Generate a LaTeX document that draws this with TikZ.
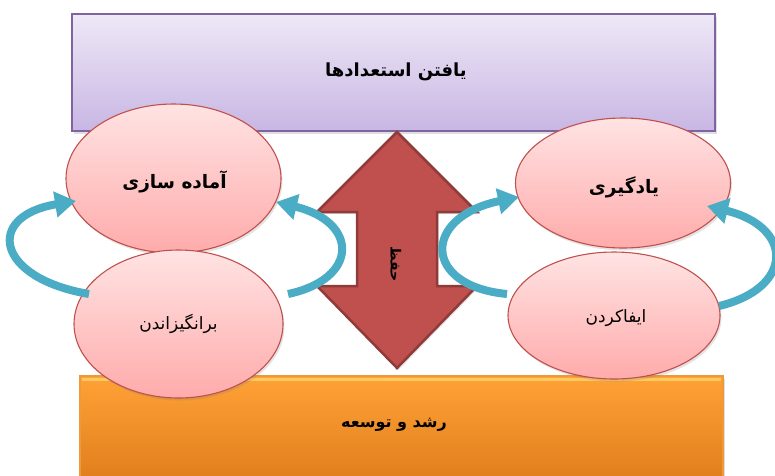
\documentclass[tikz,border=0pt]{standalone}
\usepackage{fontspec}
\newfontfamily\fa[Script=Arabic]{DejaVu Sans}
\TeXXeTstate=1
\usetikzlibrary{arrows.meta,shadows,shapes.geometric}

\definecolor{lavTop}{HTML}{EEE8F7}
\definecolor{lavBot}{HTML}{C8B6E3}
\definecolor{lavLine}{HTML}{8064A2}
\definecolor{orTop}{HTML}{FFA236}
\definecolor{orBot}{HTML}{E07E1C}
\definecolor{orLine}{HTML}{EE9A3A}
\definecolor{orHi}{HTML}{FFD46A}
\definecolor{stageTop}{HTML}{FFE3E3}
\definecolor{stageBot}{HTML}{FFABAB}
\definecolor{stageLine}{HTML}{C0504D}
\definecolor{keepFill}{HTML}{C0504D}
\definecolor{keepLine}{HTML}{8E3B39}
\definecolor{turnBlue}{HTML}{4BACC6}

\begin{document}
\begin{tikzpicture}[x=1pt,y=-1pt,
  panel/.style={draw, line width=1.2pt, inner sep=0pt,
    drop shadow={opacity=0.25,shadow xshift=2pt,shadow yshift=-3pt}},
  stage/.style={ellipse, draw=stageLine, line width=1.1pt,
    top color=stageTop, bottom color=stageBot, inner sep=0pt,
    drop shadow={opacity=0.22,shadow xshift=1.5pt,shadow yshift=-2.5pt}},
  turnarrow/.style={draw=turnBlue, line width=8pt,
    -{Triangle[width=25pt,length=21pt]}},
  headtext/.style={font=\fa\bfseries\fontsize{18}{21}\selectfont},
  stagebold/.style={font=\fa\bfseries\fontsize{18.5}{22}\selectfont},
  stageplain/.style={font=\fa\fontsize{17}{20}\selectfont},
]
\useasboundingbox (0,0) rectangle (775,475);

% top and bottom bands
\node[panel, draw=lavLine, top color=lavTop, bottom color=lavBot,
      minimum width=643pt, minimum height=117pt] (find) at (393.5,72.5) {};
\node[headtext] (findtext) at (396,72) {\beginR یافتن استعدادها\endR};

\node[panel, draw=orLine, top color=orTop, bottom color=orBot,
      minimum width=643pt, minimum height=104pt] (grow) at (401.5,428) {};
\draw[orHi, line width=3pt, opacity=0.8]
  ([shift={(3,4)}]grow.north west) -- ([shift={(-3,4)}]grow.north east);
\node[font=\fa\bfseries\fontsize{16}{19}\selectfont] (growtext) at (394,425)
  {\beginR رشد و توسعه\endR};

% central two-headed arrow
\filldraw[fill=keepFill, draw=keepLine, line width=2.5pt, line join=miter,
  drop shadow={opacity=0.2,shadow xshift=1.5pt,shadow yshift=-2pt}]
  (397,132) -- (477,212) -- (437,212) -- (437,286) -- (477,286)
  -- (397,368) -- (317,286) -- (357,286) -- (357,212) -- (317,212) -- cycle;
\node[font=\fa\bfseries\fontsize{14}{16}\selectfont, rotate=-90] (keep)
  at (396,264) {\beginR حفظ\endR};

% four stages
\node[stage, minimum width=215pt, minimum height=149pt] (prep) at (173.5,178.5) {};
\node[stagebold] at ([shift={(1,3)}]prep.center) {\beginR آماده سازی\endR};
\node[stage, minimum width=215pt, minimum height=130pt] (learn) at (623,183) {};
\node[stagebold] at ([shift={(1,4)}]learn.center) {\beginR یادگیری\endR};
\node[stage, minimum width=209pt, minimum height=148pt] (motivate) at (178.5,324) {};
\node[stageplain] at (motivate.center) {\beginR برانگیزاندن\endR};
\node[stage, minimum width=212pt, minimum height=127pt] (perform) at (614,315.5) {};
\node[stageplain] at ([shift={(2,3)}]perform.center) {\beginR ایفاکردن\endR};

% cycles between the stages
\draw[turnarrow] ([shift={(-89.5,-30)}]motivate.center)
  .. controls +(-94,-16) and +(-91,15) .. ([shift={(-97.5,22.5)}]prep.center);
\draw[turnarrow] ([shift={(109.5,-30)}]motivate.center)
  .. controls +(71,-15) and +(83,20) .. ([shift={(102.5,23.5)}]prep.center);
\draw[turnarrow] ([shift={(-107,-21.5)}]perform.center)
  .. controls +(-85,-8) and +(-97,20) .. ([shift={(-104,14)}]learn.center);
\draw[turnarrow] ([shift={(105,-9.5)}]perform.center)
  .. controls +(75,-18) and +(87,21) .. ([shift={(84,23)}]learn.center);
\end{tikzpicture}
\end{document}
